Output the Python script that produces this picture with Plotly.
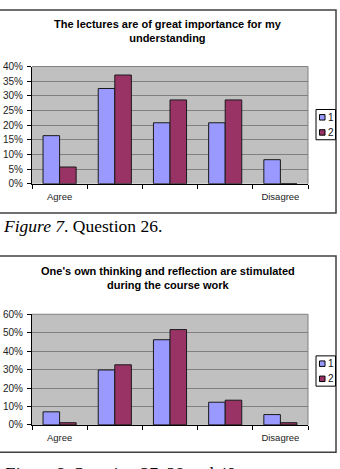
import plotly.graph_objects as go

# ---------------- data ----------------
categories = ["Agree", "c2", "c3", "c4", "Disagree"]
tick_labels = ["Agree", "", "", "", "Disagree"]
series_names = ["1", "2"]

q26_s1 = [16.4, 32.5, 20.8, 20.8, 8.2]
q26_s2 = [5.7, 37.1, 28.6, 28.6, 0]

q27_s1 = [7.1, 29.8, 46.2, 12.3, 5.6]
q27_s2 = [1.2, 32.6, 51.7, 13.4, 1.2]

title1 = "The lectures are of great importance for my<br>understanding"
title2 = "One's own thinking and reflection are stimulated<br>during the course work"
caption1 = "<i>Figure 7</i>. Question 26."
caption2 = "<i>Figure 8</i>. Question 27, 28 and 40."

W, H = 340, 469
BLUE = "#9999FF"
RED = "#993366"
colors = [BLUE, RED]


def px(x):
    return x / W


def py(y):
    return 1 - y / H


fig = go.Figure()

for vals, name, col in zip([q26_s1, q26_s2], series_names, colors):
    fig.add_trace(go.Bar(x=categories, y=vals, name=name,
                         marker=dict(color=col, line=dict(color="#1a1a1a", width=1)),
                         xaxis="x", yaxis="y", showlegend=False))
for vals, name, col in zip([q27_s1, q27_s2], series_names, colors):
    fig.add_trace(go.Bar(x=categories, y=vals, name=name,
                         marker=dict(color=col, line=dict(color="#1a1a1a", width=1)),
                         xaxis="x2", yaxis="y2", showlegend=False))

axis_font = dict(family="Liberation Sans, Arial", size=9.5, color="#222")
ytick_font = dict(family="Liberation Sans, Arial", size=10, color="#222")

xcommon = dict(
    type="category", tickmode="array", tickvals=categories, ticktext=tick_labels,
    tickson="boundaries", ticks="outside", ticklen=4, tickcolor="#000",
    showline=True, linecolor="#000", linewidth=1, showgrid=False,
    tickfont=axis_font, ticklabelstandoff=4, fixedrange=True,
)
ycommon = dict(
    ticks="outside", ticklen=4, tickcolor="#000", showline=True, linecolor="#000",
    linewidth=1, showgrid=True, gridcolor="#808080", gridwidth=1, zeroline=False,
    ticksuffix="%", tickfont=ytick_font, ticklabelstandoff=2, fixedrange=True,
)

# plot areas (pixels)
p1 = dict(x0=32, x1=308, y0=63, y1=183)
p2 = dict(x0=32, x1=308, y0=316.7, y1=430)

fig.update_layout(
    width=W, height=H, margin=dict(l=0, r=0, t=0, b=0, pad=0),
    paper_bgcolor="white", plot_bgcolor="#C0C0C0",
    barmode="group", bargap=0.4, bargroupgap=0,
    xaxis=dict(domain=[px(p1["x0"]), px(p1["x1"])], anchor="y", **xcommon),
    yaxis=dict(domain=[py(p1["y1"]), py(p1["y0"])], anchor="x", range=[0, 40], dtick=5, **ycommon),
    xaxis2=dict(domain=[px(p2["x0"]), px(p2["x1"])], anchor="y2", **xcommon),
    yaxis2=dict(domain=[py(p2["y1"]), py(p2["y0"])], anchor="x2", range=[0, 60], dtick=10, **ycommon),
)

shapes = []
annotations = []

# chart borders
for (top, bot) in [(5, 213), (257, 458)]:
    shapes.append(dict(type="rect", xref="paper", yref="paper", x0=px(-2), x1=px(336), y0=py(bot), y1=py(top),
                       line=dict(color="#404040", width=1.5), fillcolor="rgba(0,0,0,0)"))

# plot area gray border (top + right)
for p in [p1, p2]:
    shapes.append(dict(type="line", xref="paper", yref="paper", x0=px(p["x0"]), x1=px(p["x1"]),
                       y0=py(p["y0"]), y1=py(p["y0"]), line=dict(color="#808080", width=1)))
    shapes.append(dict(type="line", xref="paper", yref="paper", x0=px(p["x1"]), x1=px(p["x1"]),
                       y0=py(p["y0"]), y1=py(p["y1"]), line=dict(color="#808080", width=1)))

# legends (manual, Excel style)
for box_top in [107, 359.3]:
    shapes.append(dict(type="rect", xref="paper", yref="paper", x0=px(316), x1=px(335.5),
                       y0=py(box_top + 31), y1=py(box_top),
                       line=dict(color="#000", width=1), fillcolor="white"))
    for i, (name, col) in enumerate(zip(series_names, colors)):
        cy = box_top + 8 + i * 15.5
        shapes.append(dict(type="rect", xref="paper", yref="paper", x0=px(319.5), x1=px(325),
                           y0=py(cy + 2.8), y1=py(cy - 2.8),
                           line=dict(color="#000", width=1), fillcolor=col))
        annotations.append(dict(xref="paper", yref="paper", x=px(326.5), y=py(cy), text=name, showarrow=False,
                                xanchor="left", yanchor="middle", borderpad=0,
                                font=dict(family="Liberation Sans, Arial", size=10, color="#111")))

# titles
for text, cy in [(title1, 27), (title2, 279.3)]:
    annotations.append(dict(xref="paper", yref="paper", x=px(168), y=py(cy), text=text, showarrow=False,
                            xanchor="center", yanchor="middle",
                            font=dict(family="Liberation Sans, Arial", size=11, color="#000", weight="bold")))

# captions
for text, cy in [(caption1, 226), (caption2, 479)]:
    annotations.append(dict(xref="paper", yref="paper", x=px(1), y=py(cy), text=text, showarrow=False,
                            xanchor="left", yanchor="middle",
                            font=dict(family="Liberation Serif, Times New Roman", size=17.5, color="#000")))

fig.update_layout(shapes=shapes, annotations=annotations)

fig.write_html("out.html")
